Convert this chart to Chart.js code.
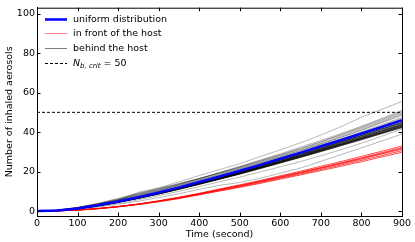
<!DOCTYPE html>
<html lang="en">
<head>
    <meta charset="UTF-8">
    <title>Inhaled aerosols</title>
    <style>
        body { margin: 0; background: #ffffff; }
        canvas { display: block; }
    </style>
    <script src="https://cdn.jsdelivr.net/npm/chart.js"></script>
</head>
<body>
    <canvas id="chart" width="415" height="242"></canvas>
    <script>
        const times = [0, 50, 100, 150, 200, 250, 300, 350, 400, 450, 500, 550, 600, 650, 700, 750, 800, 850, 900];
        const xTicks = [0, 100, 200, 300, 400, 500, 600, 700, 800, 900];
        const yTicks = [0, 20, 40, 60, 80, 100];
        const nCrit = 50;

        // uniform distribution
        const uniform = [0, 0.3, 1.3, 2.9, 4.8, 7.0, 9.4, 12.0, 14.7, 17.5, 20.4, 23.4, 26.5, 29.6, 32.8, 36.0, 39.3, 42.6, 46.0];

        // in front of the host
        const front = [
            [0, 0.1, 0.5, 1.3, 2.3, 3.6, 5.2, 7.0, 9.0, 11.2, 13.3, 15.5, 17.9, 20.2, 22.7, 25.1, 27.7, 30.3, 33.0],
            [0, 0.1, 0.5, 1.3, 2.3, 3.5, 5.1, 6.9, 8.8, 10.9, 13.0, 15.2, 17.5, 19.7, 22.1, 24.5, 27.0, 29.6, 32.2],
            [0, 0.1, 0.5, 1.2, 2.3, 3.5, 5.0, 6.8, 8.7, 10.8, 12.8, 15.0, 17.2, 19.5, 21.8, 24.2, 26.7, 29.2, 31.8],
            [0, 0.1, 0.5, 1.2, 2.2, 3.5, 5.0, 6.7, 8.6, 10.6, 12.7, 14.8, 17.0, 19.2, 21.6, 23.9, 26.3, 28.9, 31.4],
            [0, 0.1, 0.5, 1.2, 2.2, 3.4, 4.8, 6.5, 8.4, 10.4, 12.3, 14.4, 16.6, 18.8, 21.0, 23.3, 25.7, 28.1, 30.6],
            [0, 0.1, 0.5, 1.2, 2.1, 3.3, 4.7, 6.3, 8.2, 10.1, 12.0, 14.0, 16.2, 18.3, 20.5, 22.7, 25.0, 27.4, 29.8]
        ];

        // behind the host: scattered upper runs
        const behindUpper = [
            [0, 0.4, 1.8, 3.5, 5.6, 9.5, 11.8, 14.8, 18.0, 21.0, 24.0, 27.6, 31.0, 34.6, 38.5, 42.8, 47.5, 51.5, 55.5],
            [0, 0.4, 1.7, 3.6, 5.9, 8.4, 10.9, 13.6, 16.4, 19.4, 22.5, 25.8, 29.0, 32.4, 35.8, 39.3, 43.0, 46.9, 51.0],
            [0, 0.3, 1.5, 3.3, 5.5, 8.6, 11.0, 13.5, 16.4, 19.6, 22.6, 25.6, 28.6, 31.8, 35.2, 38.8, 42.6, 46.5, 50.5],
            [0, 0.4, 1.6, 3.5, 5.7, 8.1, 10.6, 13.3, 16.1, 19.0, 22.0, 25.2, 28.4, 31.6, 35.0, 38.6, 42.2, 46.0, 50.0],
            [0, 0.5, 1.9, 3.8, 6.2, 8.9, 11.3, 13.8, 16.5, 19.3, 22.2, 25.1, 28.1, 31.2, 34.5, 38.0, 41.7, 45.5, 49.5],
            [0, 0.4, 1.8, 3.9, 6.4, 9.0, 11.5, 14.0, 16.6, 19.2, 21.8, 24.6, 27.6, 30.7, 34.0, 37.5, 41.1, 45.0, 49.0],
            [0, 0.3, 1.4, 3.1, 5.2, 7.6, 10.2, 12.9, 15.7, 18.5, 21.4, 24.4, 27.5, 30.6, 33.9, 37.3, 40.9, 44.7, 48.5],
            [0, 0.4, 1.6, 3.4, 5.6, 8.0, 10.4, 13.0, 15.7, 18.4, 21.2, 24.1, 27.0, 30.0, 33.2, 36.6, 40.1, 43.8, 47.5],
            [0, 0.3, 1.5, 3.2, 5.3, 7.6, 10.0, 12.5, 15.2, 17.9, 20.7, 23.6, 26.6, 29.7, 32.9, 36.2, 39.6, 43.3, 47.0],
            [0, 0.2, 1.0, 2.3, 3.9, 5.7, 7.8, 10.0, 12.4, 14.8, 17.2, 19.8, 22.4, 25.1, 28.0, 31.1, 34.4, 37.9, 41.5],
            [0, 0.2, 0.9, 2.0, 3.4, 5.0, 6.8, 8.8, 11.0, 13.0, 14.5, 16.6, 19.2, 21.8, 25.2, 28.6, 32.0, 35.5, 39.0]
        ];

        // behind the host: tight bundle just under the uniform case
        const behindBundle = [
            [0, 0.3, 1.3, 2.8, 4.7, 6.8, 9.2, 11.7, 14.4, 17.1, 19.9, 22.9, 25.9, 28.9, 32.1, 35.2, 38.4, 41.7, 45.0],
            [0, 0.3, 1.3, 2.8, 4.7, 6.8, 9.1, 11.7, 14.3, 17.0, 19.8, 22.8, 25.8, 28.8, 31.9, 35.1, 38.3, 41.5, 44.8],
            [0, 0.3, 1.3, 2.9, 4.8, 6.8, 9.0, 11.6, 14.3, 17.0, 19.6, 22.6, 25.7, 28.6, 31.6, 34.9, 38.0, 41.2, 44.5],
            [0, 0.3, 1.2, 2.8, 4.6, 6.7, 9.0, 11.5, 14.1, 16.7, 19.5, 22.4, 25.3, 28.3, 31.4, 34.5, 37.6, 40.7, 44.0],
            [0, 0.3, 1.2, 2.8, 4.6, 6.7, 8.9, 11.4, 14.0, 16.6, 19.4, 22.3, 25.2, 28.2, 31.2, 34.3, 37.4, 40.6, 43.8],
            [0, 0.3, 1.2, 2.7, 4.6, 6.6, 8.9, 11.4, 13.9, 16.6, 19.3, 22.1, 25.0, 28.0, 31.0, 34.0, 37.1, 40.3, 43.5],
            [0, 0.3, 1.2, 2.7, 4.5, 6.6, 8.8, 11.3, 13.8, 16.4, 19.1, 22.0, 24.9, 27.8, 30.8, 33.8, 36.9, 40.0, 43.2],
            [0, 0.3, 1.2, 2.7, 4.5, 6.5, 8.8, 11.2, 13.8, 16.3, 19.0, 21.9, 24.8, 27.6, 30.7, 33.7, 36.7, 39.8, 43.0],
            [0, 0.3, 1.2, 2.7, 4.5, 6.5, 8.7, 11.2, 13.7, 16.3, 19.0, 21.8, 24.7, 27.5, 30.5, 33.5, 36.6, 39.6, 42.8],
            [0, 0.3, 1.2, 2.7, 4.4, 6.5, 8.7, 11.1, 13.6, 16.2, 18.8, 21.6, 24.5, 27.3, 30.3, 33.3, 36.3, 39.4, 42.5],
            [0, 0.3, 1.2, 2.6, 4.4, 6.4, 8.6, 11.0, 13.5, 16.1, 18.7, 21.5, 24.3, 27.2, 30.1, 33.1, 36.1, 39.2, 42.2]
        ];

        const FONT = 'DejaVu Sans';
        const toPoints = arr => arr.map((v, i) => ({ x: times[i], y: v }));

        const datasets = [];
        datasets.push({
            data: [{ x: xTicks[0], y: nCrit }, { x: xTicks[xTicks.length - 1], y: nCrit }],
            borderColor: '#000000', borderWidth: 1, borderDash: [3, 2], order: 0
        });
        datasets.push({ data: toPoints(uniform), borderColor: '#0000ff', borderWidth: 2.5, order: 1 });
        front.forEach(line => {
            datasets.push({ data: toPoints(line), borderColor: 'rgba(255,0,0,0.7)', borderWidth: 1, order: 2 });
        });
        behindBundle.forEach(line => {
            datasets.push({ data: toPoints(line), borderColor: 'rgba(0,0,0,0.6)', borderWidth: 1, order: 3 });
        });
        behindUpper.forEach(line => {
            datasets.push({ data: toPoints(line), borderColor: 'rgba(0,0,0,0.4)', borderWidth: 0.7, order: 4 });
        });

        // inward ticks on all four sides + top/right spines
        const frameTicks = {
            id: 'frameTicks',
            afterDraw(chart) {
                const ctx = chart.ctx;
                const a = chart.chartArea;
                const xs = chart.scales.x, ys = chart.scales.y;
                const len = 3.5;
                ctx.save();
                ctx.strokeStyle = '#000';
                ctx.lineWidth = 1;
                ctx.strokeRect(a.left + 0.5, a.top + 0.5, a.right - a.left, a.bottom - a.top);
                ctx.beginPath();
                xTicks.forEach(v => {
                    const px = Math.round(xs.getPixelForValue(v)) + 0.5;
                    ctx.moveTo(px, a.bottom); ctx.lineTo(px, a.bottom - len);
                    ctx.moveTo(px, a.top); ctx.lineTo(px, a.top + len);
                });
                yTicks.forEach(v => {
                    const py = Math.round(ys.getPixelForValue(v)) + 0.5;
                    ctx.moveTo(a.left, py); ctx.lineTo(a.left + len, py);
                    ctx.moveTo(a.right, py); ctx.lineTo(a.right - len, py);
                });
                ctx.stroke();
                ctx.restore();
            }
        };

        // matplotlib style legend, with subscript on the last entry
        const legendBox = {
            id: 'legendBox',
            afterDraw(chart) {
                const ctx = chart.ctx;
                const a = chart.chartArea;
                const x0 = a.left + 8, x1 = a.left + 30, tx = a.left + 36;
                const rows = [
                    { color: '#0000ff', width: 2.5, dash: [], label: 'uniform distribution' },
                    { color: 'rgba(255,0,0,0.5)', width: 1, dash: [], label: 'in front of the host' },
                    { color: 'rgba(0,0,0,0.5)', width: 1, dash: [], label: 'behind the host' },
                    { color: '#000000', width: 1, dash: [3, 2], label: null }
                ];
                ctx.save();
                ctx.textBaseline = 'middle';
                ctx.fillStyle = '#000';
                rows.forEach((r, i) => {
                    const y = Math.round(a.top + 11 + i * 14.6) + 0.5;
                    ctx.beginPath();
                    ctx.setLineDash(r.dash);
                    ctx.strokeStyle = r.color;
                    ctx.lineWidth = r.width;
                    ctx.moveTo(x0, y); ctx.lineTo(x1, y);
                    ctx.stroke();
                    ctx.setLineDash([]);
                    if (r.label) {
                        ctx.font = '9.5px "' + FONT + '"';
                        ctx.fillText(r.label, tx, y);
                    } else {
                        let x = tx;
                        ctx.font = 'italic 9.5px "' + FONT + '"';
                        ctx.fillText('N', x, y);
                        x += ctx.measureText('N').width;
                        ctx.font = 'italic 7px "' + FONT + '"';
                        ctx.fillText('b, crit', x, y + 2.5);
                        x += ctx.measureText('b, crit').width;
                        ctx.font = '9.5px "' + FONT + '"';
                        ctx.fillText(' = ' + nCrit, x, y);
                    }
                });
                ctx.restore();
            }
        };

        new Chart(document.getElementById('chart'), {
            type: 'line',
            data: { datasets: datasets },
            options: {
                responsive: false,
                animation: false,
                devicePixelRatio: 1,
                layout: { padding: { left: 4, right: 13, top: 5, bottom: 0 } },
                elements: { point: { radius: 0 }, line: { tension: 0, fill: false } },
                plugins: { legend: { display: false }, tooltip: { enabled: false } },
                scales: {
                    x: {
                        type: 'linear', min: 0, max: 900,
                        afterBuildTicks: s => { s.ticks = xTicks.map(v => ({ value: v })); },
                        afterFit: s => { s.height = 26; },
                        grid: { drawOnChartArea: false, drawTicks: false },
                        border: { color: '#000', width: 1 },
                        ticks: { color: '#000', padding: 2, maxRotation: 0, font: { family: FONT, size: 9.5 } },
                        title: { display: true, text: 'Time (second)', color: '#000', padding: { top: 0, bottom: 2 }, font: { family: FONT, size: 9.5 } }
                    },
                    y: {
                        type: 'linear', min: -2.5, max: 103,
                        afterBuildTicks: s => { s.ticks = yTicks.map(v => ({ value: v })); },
                        afterFit: s => { s.width = 33; },
                        grid: { drawOnChartArea: false, drawTicks: false },
                        border: { color: '#000', width: 1 },
                        ticks: { color: '#000', padding: 2, font: { family: FONT, size: 9.5 } },
                        title: { display: true, text: 'Number of inhaled aerosols', color: '#000', padding: { top: 0, bottom: 0 }, font: { family: FONT, size: 9.5 } }
                    }
                }
            },
            plugins: [frameTicks, legendBox]
        });
    </script>
</body>
</html>
